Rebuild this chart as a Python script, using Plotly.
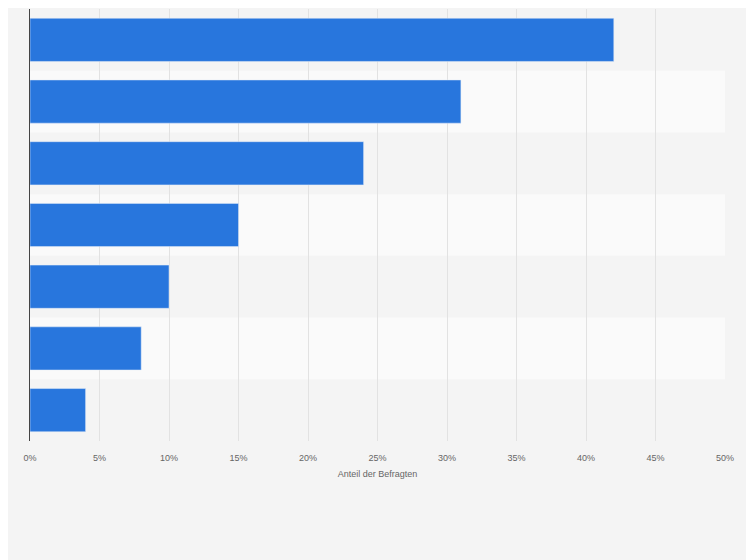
import plotly.graph_objects as go

categories = ["A", "B", "C", "D", "E", "F", "G"]
values = [42, 31, 24, 15, 10, 8, 4]
tick_vals = [0, 5, 10, 15, 20, 25, 30, 35, 40, 45, 50]
tick_text = [f"{v}%" for v in tick_vals]

fig = go.Figure(go.Bar(
    x=values, y=categories, orientation="h",
    marker=dict(color="#2876dd"), width=0.7, hoverinfo="x"))

shapes = []
for i, c in enumerate(categories):
    if i % 2 == 1:
        shapes.append(dict(type="rect", xref="paper", yref="y", x0=0, x1=1,
                           y0=i - 0.5, y1=i + 0.5, fillcolor="#fafafa",
                           line=dict(width=0), layer="below"))

fig.update_layout(
    width=754, height=560,
    margin=dict(l=22, r=37, t=1, b=127),
    paper_bgcolor="#f4f4f4", plot_bgcolor="#f4f4f4",
    showlegend=False, shapes=shapes,
    font=dict(family="Arial, Liberation Sans, sans-serif", color="#666", size=9),
    xaxis=dict(range=[0, 50], tickvals=tick_vals, ticktext=tick_text,
               showgrid=True, gridcolor="#e2e2e2", gridwidth=1, zeroline=False,
               title=dict(text="Anteil der Befragten", font=dict(size=9, color="#666"), standoff=8),
               ticks="", ticklabelstandoff=10),
    yaxis=dict(autorange="reversed", showticklabels=False, showgrid=False,
               showline=True, linecolor="#444", linewidth=1, ticks="",
               range=[6.5, -0.5]),
    bargap=0.3,
)
fig.write_html("out.html")
